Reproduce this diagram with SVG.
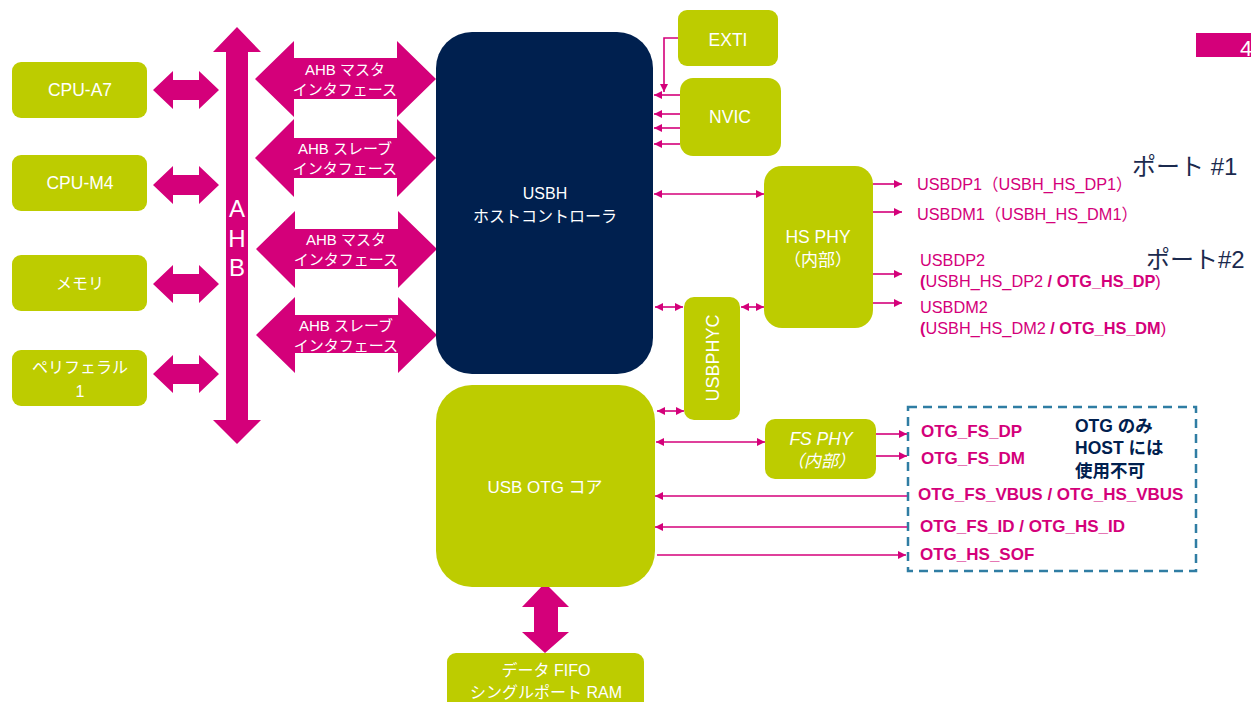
<svg xmlns="http://www.w3.org/2000/svg" width="1251" height="702" viewBox="0 0 1251 702">
<style>
text{font-family:"Liberation Sans","Noto Sans CJK JP",sans-serif;}
.g{fill:#bdcc00;}
.n{fill:#00204f;}
.m{fill:#d4007a;}
.w{fill:#ffffff;font-size:16px;text-anchor:middle;}
.wi{fill:#ffffff;font-size:16px;text-anchor:middle;font-style:italic;}
.ln{stroke:#d4007a;stroke-width:1.6;fill:none;}
.p{fill:#d4007a;font-size:16.3px;}
.pb{fill:#d4007a;font-size:17px;font-weight:bold;}
.nb{fill:#00204f;font-size:17.5px;font-weight:bold;}
.port{fill:#1b2a4e;font-size:24px;}
</style>
<defs>
<marker id="ah" viewBox="0 0 10 10" refX="10" refY="5" markerWidth="8" markerHeight="8" markerUnits="userSpaceOnUse" orient="auto-start-reverse"><path d="M0,0 L10,5 L0,10 z" fill="#d4007a"/></marker>
</defs>
<rect id="page-tab" x="1196" y="33" width="55" height="24" class="m"/>
<text x="1240" y="56" style="fill:#fff;font-size:22px">4</text>
<g id="bus-arrows">
<polygon class="m" points="153,90 173,71 173,80 199,80 199,71 219,90 199,109 199,100 173,100 173,109"/>
<polygon class="m" points="153,185 173,166 173,175 199,175 199,166 219,185 199,204 199,195 173,195 173,204"/>
<polygon class="m" points="153,284 173,265 173,274 199,274 199,265 219,284 199,303 199,294 173,294 173,303"/>
<polygon class="m" points="153,374 173,355 173,364 199,364 199,355 219,374 199,393 199,384 173,384 173,393"/>
<polygon class="m" points="255,79 294,41 294,58 397,58 397,41 436,79 397,117 397,99 294,99 294,117"/>
<polygon class="m" points="255,158 294,119 294,138 397,138 397,119 436,158 397,197 397,178 294,178 294,197"/>
<polygon class="m" points="256,249 295,211 295,229 398,229 398,211 437,249 398,288 398,269 295,269 295,288"/>
<polygon class="m" points="256,335 295,297 295,315 398,315 398,297 437,335 398,373 398,353 295,353 295,373"/>
<polygon class="m" points="545,583 569,607 558,607 558,632 569,632 545,653 522,632 534,632 534,607 522,607"/>
</g>
<g id="ahb-bus">
<polygon class="m" points="237,27 261,52 248,52 248,420 261,420 237,444 213,420 226,420 226,52 213,52"/>
<text x="237" y="217" style="fill:#fff;font-size:24px;text-anchor:middle">A</text>
<text x="237" y="247" style="fill:#fff;font-size:24px;text-anchor:middle">H</text>
<text x="237" y="276" style="fill:#fff;font-size:24px;text-anchor:middle">B</text>
</g>
<g id="ahb-if-labels">
<text class="w" x="345" y="75" style="font-size:15px">AHB マスタ</text>
<text class="w" x="345" y="95" style="font-size:15px">インタフェース</text>
<text class="w" x="345" y="154" style="font-size:15px">AHB スレーブ</text>
<text class="w" x="345" y="174" style="font-size:15px">インタフェース</text>
<text class="w" x="346" y="245" style="font-size:15px">AHB マスタ</text>
<text class="w" x="346" y="265" style="font-size:15px">インタフェース</text>
<text class="w" x="346" y="331" style="font-size:15px">AHB スレーブ</text>
<text class="w" x="346" y="351" style="font-size:15px">インタフェース</text>
</g>
<g id="cpu-a7"><rect class="g" x="12" y="62" width="135" height="56" rx="9"/><text class="w" x="80" y="96" style="font-size:17.5px">CPU-A7</text></g>
<g id="cpu-m4"><rect class="g" x="12" y="155" width="135" height="56" rx="9"/><text class="w" x="80" y="189" style="font-size:17.5px">CPU-M4</text></g>
<g id="memory"><rect class="g" x="12" y="255" width="135" height="56" rx="9"/><text class="w" x="80" y="289">メモリ</text></g>
<g id="peripheral"><rect class="g" x="12" y="350" width="135" height="56" rx="9"/><text class="w" x="80" y="373">ペリフェラル</text><text class="w" x="80" y="397">1</text></g>
<g id="usbh"><rect class="n" x="436" y="32" width="217" height="342" rx="36"/><text class="w" x="545" y="199">USBH</text><text class="w" x="545" y="222">ホストコントローラ</text></g>
<g id="otg-core"><rect class="g" x="436" y="385" width="219" height="202" rx="36"/><text class="w" x="545" y="493" style="font-size:17px">USB OTG コア</text></g>
<g id="fifo"><rect class="g" x="447" y="653" width="197" height="60" rx="9"/><text class="w" x="546" y="676">データ FIFO</text><text class="w" x="546" y="698">シングルポート RAM</text></g>
<g id="exti"><rect class="g" x="678" y="10" width="100" height="56" rx="9"/><text class="w" x="728" y="46" style="font-size:17.5px">EXTI</text></g>
<g id="nvic"><rect class="g" x="680" y="78" width="101" height="78" rx="13"/><text class="w" x="730" y="123" style="font-size:17.5px">NVIC</text></g>
<g id="hsphy"><rect class="g" x="764" y="166" width="109" height="162" rx="18"/><text class="w" x="818" y="243" style="font-size:17.5px">HS PHY</text><text class="w" x="818" y="266" style="font-size:17px">（内部）</text></g>
<g id="usbphyc"><rect class="g" x="684" y="297" width="56" height="123" rx="10"/><text class="w" transform="translate(719,358) rotate(-90)" style="font-size:18px">USBPHYC</text></g>
<g id="fsphy"><rect class="g" x="765" y="419" width="111" height="60" rx="10"/><text class="wi" x="821" y="445" style="font-size:17.5px">FS PHY</text><text class="wi" x="821" y="467" style="font-size:17px">（内部）</text></g>
<g id="otg-only">
<rect x="908" y="407" width="288" height="164" fill="none" stroke="#2f7da3" stroke-width="2.5" stroke-dasharray="9 6"/>
<text class="pb" x="921" y="437">OTG_FS_DP</text>
<text class="pb" x="921" y="464">OTG_FS_DM</text>
<text class="pb" x="918" y="500">OTG_FS_VBUS / OTG_HS_VBUS</text>
<text class="pb" x="920" y="532">OTG_FS_ID / OTG_HS_ID</text>
<text class="pb" x="920" y="560">OTG_HS_SOF</text>
<text class="nb" x="1075" y="432">OTG のみ</text>
<text class="nb" x="1075" y="454">HOST には</text>
<text class="nb" x="1075" y="477">使用不可</text>
</g>
<g id="signals">
<text class="p" x="917" y="190">USBDP1（USBH_HS_DP1）</text>
<text class="p" x="917" y="220">USBDM1（USBH_HS_DM1）</text>
<text class="p" x="920" y="266">USBDP2</text>
<text class="p" x="920" y="287"><tspan font-weight="bold">(</tspan>USBH_HS_DP2 <tspan font-weight="bold">/ OTG_HS_DP</tspan>)</text>
<text class="p" x="920" y="313">USBDM2</text>
<text class="p" x="920" y="334"><tspan font-weight="bold">(</tspan>USBH_HS_DM2 <tspan font-weight="bold">/ OTG_HS_DM</tspan>)</text>
<text class="port" x="1132" y="175">ポート #1</text>
<text class="port" x="1146" y="268">ポート#2</text>
</g>
<g id="connectors">
<path class="ln" d="M678,38 H664 V92" marker-end="url(#ah)"/>
<line class="ln" x1="680" y1="95" x2="654" y2="95" marker-end="url(#ah)"/>
<line class="ln" x1="680" y1="114" x2="654" y2="114" marker-end="url(#ah)"/>
<line class="ln" x1="680" y1="128" x2="654" y2="128" marker-end="url(#ah)"/>
<line class="ln" x1="680" y1="144" x2="654" y2="144" marker-end="url(#ah)"/>
<line class="ln" x1="654" y1="194" x2="764" y2="194" marker-start="url(#ah)" marker-end="url(#ah)"/>
<line class="ln" x1="655" y1="307" x2="683" y2="307" marker-start="url(#ah)" marker-end="url(#ah)"/>
<line class="ln" x1="741" y1="307" x2="764" y2="307" marker-start="url(#ah)" marker-end="url(#ah)"/>
<line class="ln" x1="657" y1="411" x2="684" y2="411" marker-start="url(#ah)" marker-end="url(#ah)"/>
<line class="ln" x1="656" y1="442" x2="765" y2="442" marker-start="url(#ah)" marker-end="url(#ah)"/>
<line class="ln" x1="873" y1="184" x2="902" y2="184" marker-end="url(#ah)"/>
<line class="ln" x1="873" y1="212" x2="902" y2="212" marker-end="url(#ah)"/>
<line class="ln" x1="873" y1="274" x2="902" y2="274" marker-end="url(#ah)"/>
<line class="ln" x1="873" y1="303" x2="902" y2="303" marker-end="url(#ah)"/>
<line class="ln" x1="876" y1="434" x2="907" y2="434" marker-end="url(#ah)"/>
<line class="ln" x1="876" y1="456" x2="907" y2="456" marker-end="url(#ah)"/>
<line class="ln" x1="907" y1="496" x2="655" y2="496" marker-end="url(#ah)"/>
<line class="ln" x1="907" y1="527" x2="655" y2="527" marker-end="url(#ah)"/>
<line class="ln" x1="657" y1="555" x2="906" y2="555" marker-end="url(#ah)"/>
</g>
</svg>
